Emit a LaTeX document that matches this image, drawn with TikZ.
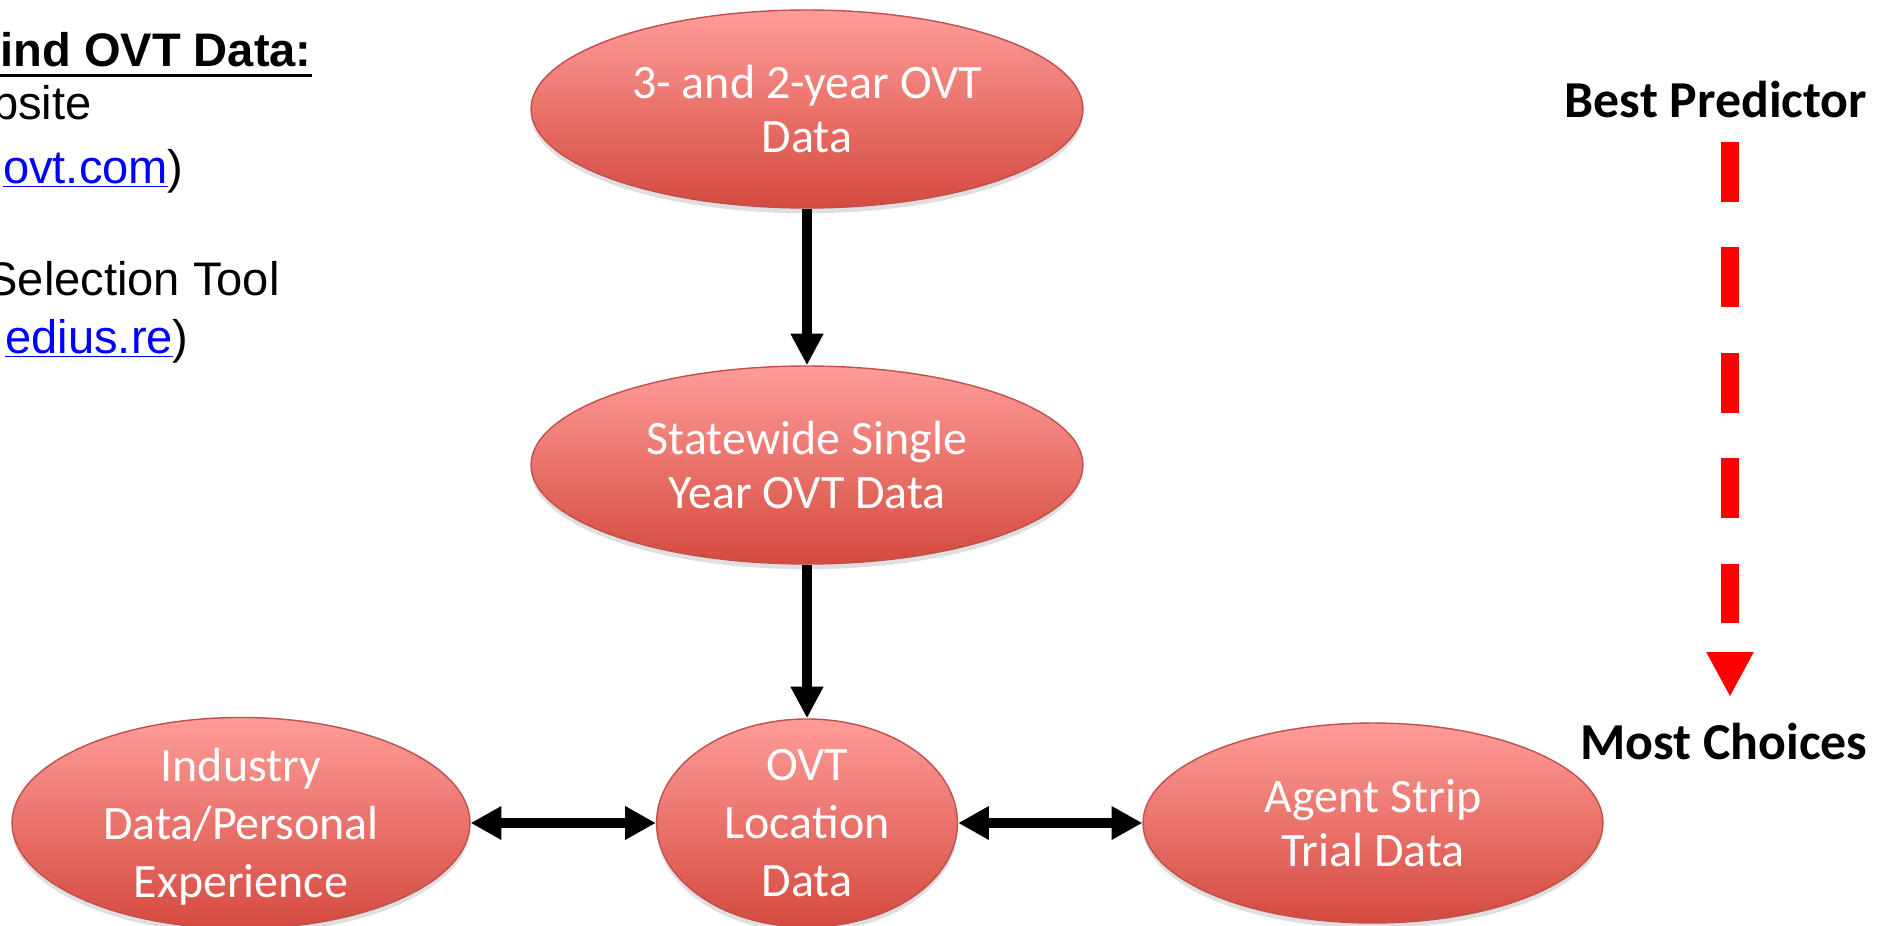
\documentclass[tikz,border=0pt]{standalone}
\usepackage{fontspec}
\setmainfont{Liberation Sans}
\newfontfamily\calibri{Carlito}
\usetikzlibrary{arrows.meta,shapes.geometric,shadows}

\definecolor{ovtborder}{HTML}{C0504D}
\definecolor{ovttop}{HTML}{FF9C98}
\definecolor{ovtbot}{HTML}{D44A3F}
\definecolor{linkblue}{HTML}{0000FF}
\definecolor{scalered}{HTML}{FF0000}

\tikzset{
  oval/.style={ellipse, draw=ovtborder, line width=0.8pt, top color=ovttop, bottom color=ovtbot,
    text=white, font=\calibri\fontsize{27.3}{31}\selectfont, align=center, inner sep=0pt,
    drop shadow={shadow xshift=0pt, shadow yshift=-3pt, opacity=0.25}},
  tall/.style={font=\calibri\fontsize{27.3}{33}\selectfont, text depth=-1pt},
  wide/.style={minimum width=11.04cm, minimum height=3.96cm},
  link/.style={-{Triangle[width=17.5pt,length=18pt]}, line width=5.7pt},
  both/.style={{Triangle[width=18pt,length=17.5pt]}-{Triangle[width=18pt,length=17.5pt]}, line width=5.7pt},
  body/.style={anchor=base east, inner sep=0pt, font=\fontsize{26.8}{31}\selectfont},
  scalelabel/.style={font=\calibri\bfseries\fontsize{29.5}{34}\selectfont, inner sep=0pt}
}

\begin{document}
\begin{tikzpicture}[x=0.02cm,y=-0.02cm]

	\clip (0,0) rectangle (1890,926);

	% where to look
	\node[body, font=\bfseries\fontsize{26.8}{31}\selectfont] (where) at (312,67) {ind OVT Data:};
	\draw[line width=1.7pt] ([yshift=-4.6pt]where.base west) -- ([yshift=-4.6pt]where.base east);
	\node[body] (site) at (92,120) {bsite};
	\node[body] (siteurl) at (184,183) {\textcolor{linkblue}{\underline{ovt.com}})};
	\node[body] (tool) at (280,295) {Selection Tool};
	\node[body] (toolurl) at (189,353) {\textcolor{linkblue}{\underline{edius.re}})};

	% data sources
	\node[oval, wide] (multi) at (807,109) {3- and 2-year OVT\\Data};
	\node[oval, wide] (single) at (807,465) {Statewide Single\\Year OVT Data};
	\node[oval, tall, minimum width=6.02cm, minimum height=4cm] (loc) at (807,823) {OVT\\Location\\Data};
	\node[oval, tall, minimum width=9.16cm, minimum height=4cm] (industry) at (241,823) {Industry\\Data/Personal\\Experience};
	\node[oval, minimum width=9.2cm, minimum height=4cm] (strip) at (1373,823) {Agent Strip\\Trial Data};

	\draw[link] (multi) -- (single);
	\draw[link] (single) -- (loc);
	\draw[both] (industry) -- (loc);
	\draw[both] (loc) -- (strip);

	% ranking scale
	\node[scalelabel] (best) at (1716,100) {Best Predictor};
	\node[scalelabel] (most) at (1724,741) {Most Choices};
	\coordinate (scaletop) at (1730,142);
	\coordinate (scalebot) at (1730,697);
	\draw[scalered, line width=10pt, dash pattern=on 34pt off 26pt,
		-{Triangle[width=25pt,length=25.5pt]}] (scaletop) -- (scalebot);

\end{tikzpicture}
\end{document}
